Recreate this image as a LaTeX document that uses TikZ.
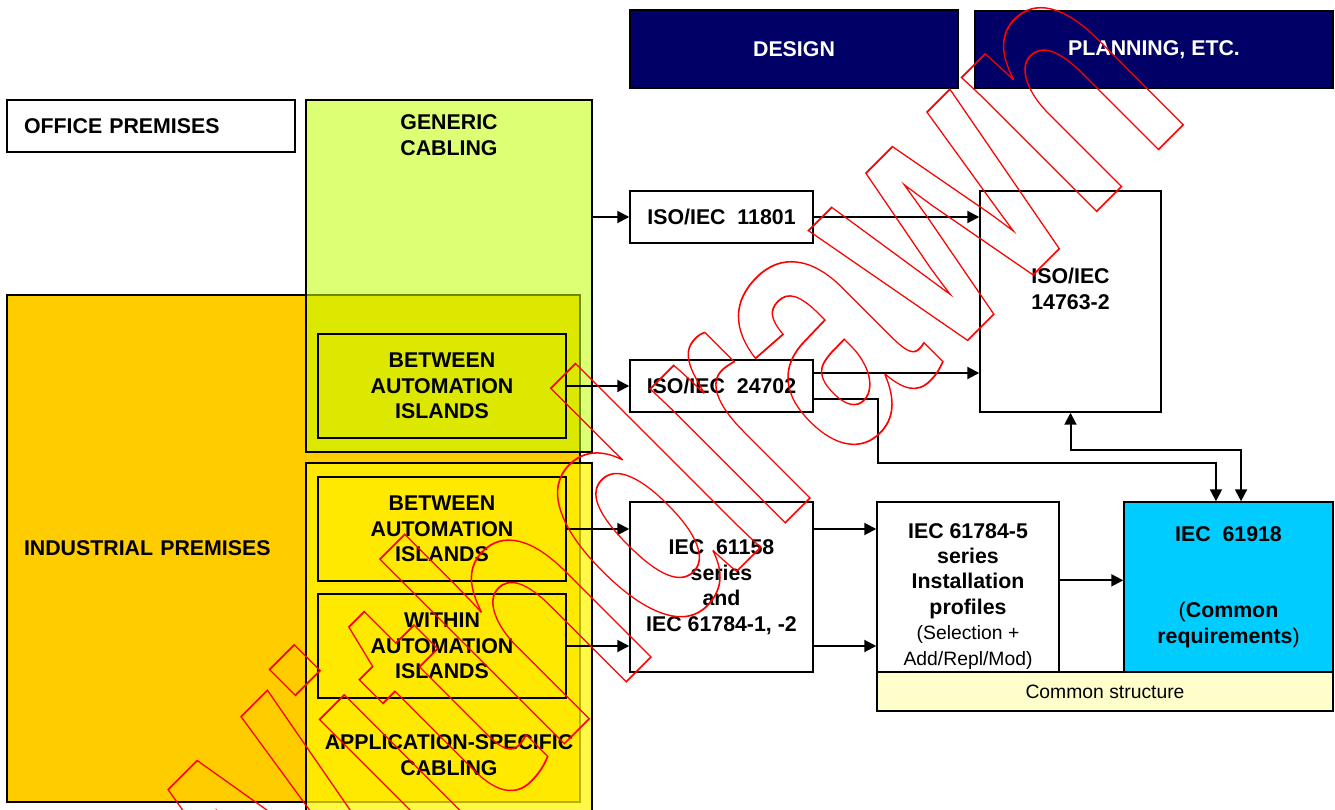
\documentclass[tikz,border=0pt]{standalone}
\usepackage{fontspec}
\setmainfont{Liberation Sans}
\usetikzlibrary{positioning, arrows.meta, calc}
\definecolor{dsnavy}{RGB}{0,0,102}
\definecolor{gencab}{RGB}{193,255,0}
\definecolor{appcab}{RGB}{255,245,0}
\definecolor{indprem}{RGB}{255,204,0}
\definecolor{iecblue}{RGB}{0,204,255}
\definecolor{commonyel}{RGB}{255,255,204}
\definecolor{wdred}{RGB}{255,0,0}
\newcommand\lblfont{\bfseries\fontsize{16}{19.1}\selectfont}
\newcommand\smlfont{\mdseries\fontsize{14.5}{17.5}\selectfont}
\tikzset{
  headbox/.style = {draw=black, line width=1.2pt, fill=dsnavy, text=white,
                    font=\lblfont, align=center},
  areabox/.style = {draw=black, line width=1.1pt},
  islebox/.style = {draw=black, line width=1.1pt, minimum width=186pt,
                    minimum height=78pt, align=center, font=\lblfont},
  stdbox/.style  = {draw=black, line width=1.1pt, fill=white, inner sep=0pt,
                    align=center, font=\lblfont},
  lbl/.style     = {align=center, font=\lblfont, inner sep=0pt},
  flowarr/.style = {-{Triangle[length=9pt,width=9pt]}, line width=1.5pt},
  biarr/.style   = {{Triangle[length=9pt,width=9pt]}-{Triangle[length=9pt,width=9pt]},
                    line width=1.5pt},
}

\begin{document}
\begin{tikzpicture}[x=0.75pt, y=-0.75pt]
  \useasboundingbox (0,0) rectangle (1335,810);
  \clip (0,0) rectangle (1335,810);
  % headers
  \node[headbox, minimum width=246pt, minimum height=58.5pt] (design) at (794,49) {DESIGN};
  \node[headbox, line width=0.8pt, minimum width=268.5pt, minimum height=57.75pt] (planning)
    at (1154,49.5) {PLANNING, ETC.};
  % premises and cabling areas
  \node[areabox, fill=white, minimum width=216pt, minimum height=39pt, inner xsep=12.75pt,
        text width=190.5pt, align=left, font=\lblfont] (office) at (151,126) {OFFICE PREMISES};
  \node[areabox, fill=indprem, minimum width=429.75pt, minimum height=380.25pt, inner xsep=12.75pt,
        text width=404.25pt, align=left, font=\lblfont] (industrial) at (293.5,548.5)
    {INDUSTRIAL PREMISES};
  \node[areabox, fill=gencab, fill opacity=0.55, minimum width=214.5pt, minimum height=264pt]
    (generic) at (449,276) {};
  \node[lbl] (generictxt) at (449,135) {GENERIC\\CABLING};
  \node[areabox, fill=appcab, fill opacity=0.72, minimum width=214.5pt, minimum height=262.5pt]
    (appspec) at (449,638) {};
  \node[lbl] (appspectxt) at (449,755) {APPLICATION-SPECIFIC\\CABLING};
  \node[islebox] (islandsA) at (442,386) {BETWEEN\\AUTOMATION\\ISLANDS};
  \node[islebox] (islandsB) at (442,529) {BETWEEN\\AUTOMATION\\ISLANDS};
  \node[islebox] (islandsC) at (442,646) {WITHIN\\AUTOMATION\\ISLANDS};
  % standards
  \node[stdbox, minimum width=137.25pt, minimum height=39pt] (iso11801) at (721.5,217)
    {ISO/IEC~~11801};
  \node[stdbox, minimum width=137.25pt, minimum height=39pt] (iso24702) at (721.5,386)
    {ISO/IEC~~24702};
  \node[stdbox, minimum width=135.75pt, minimum height=165.75pt] (iso14763) at (1070.5,301.5)
    {ISO/IEC\\14763-2\\~};
  \node[stdbox, minimum width=137.25pt, minimum height=127.5pt] (iec61158) at (721.5,587)
    {IEC~~61158\\series\\and\\IEC 61784-1, -2};
  \node[stdbox, minimum width=136.5pt, minimum height=127.5pt] (iec61784) at (968,587)
    {\rule{0pt}{25pt}IEC 61784-5\\series\\Installation\\profiles\\{\smlfont (Selection +}\\{\smlfont Add/Repl/Mod)}};
  \node[stdbox, fill=iecblue, minimum width=156.75pt, minimum height=127.5pt] (iec61918)
    at (1228.5,587) {IEC~~61918\\~\\~\\{\mdseries(}Common\\requirements{\mdseries)}};
  \node[stdbox, fill=commonyel, font=\smlfont, minimum width=342pt, minimum height=29.25pt]
    (common) at (1105,691.5) {Common structure};
  % connections
  \draw[flowarr] (generic.east |- iso11801.west) -- (iso11801.west);
  \draw[flowarr] (iso11801.east) -- (iso11801.east -| iso14763.west);
  \draw[flowarr] (islandsA.east) -- (islandsA.east -| iso24702.west);
  \draw[flowarr] ([yshift=9.75pt]iso24702.east) -- ([yshift=9.75pt]iso24702.east -| iso14763.west);
  \draw[flowarr] ([yshift=-9.75pt]iso24702.east) -- ++(64,0) -- ++(0,64)
    -| ([xshift=-9.4pt]iec61918.north);
  \draw[biarr] ([xshift=9.4pt]iec61918.north) -- ++(0,-51) -| (iso14763.south);
  \draw[flowarr] (islandsB.east) -- (islandsB.east -| iec61158.west);
  \draw[flowarr] (islandsC.east) -- (islandsC.east -| iec61158.west);
  \draw[flowarr] (iec61158.east |- islandsB.east) -- (iec61784.west |- islandsB.east);
  \draw[flowarr] (iec61158.east |- islandsC.east) -- (iec61784.west |- islandsC.east);
  \draw[flowarr] ([yshift=5pt]iec61784.east) -- ([yshift=5pt]iec61918.west);
  % withdrawn stamp
  \node[anchor=base west, rotate=45, inner sep=0pt, text=wdred] (withdrawn) at (272,1036)
    {\special{pdf:literal direct 1 Tr 1.3 w}\scalebox{0.71}[1]{\bfseries\fontsize{270}{270}\selectfont Withdrawn}\special{pdf:literal direct 0 Tr}};
\end{tikzpicture}
\end{document}
